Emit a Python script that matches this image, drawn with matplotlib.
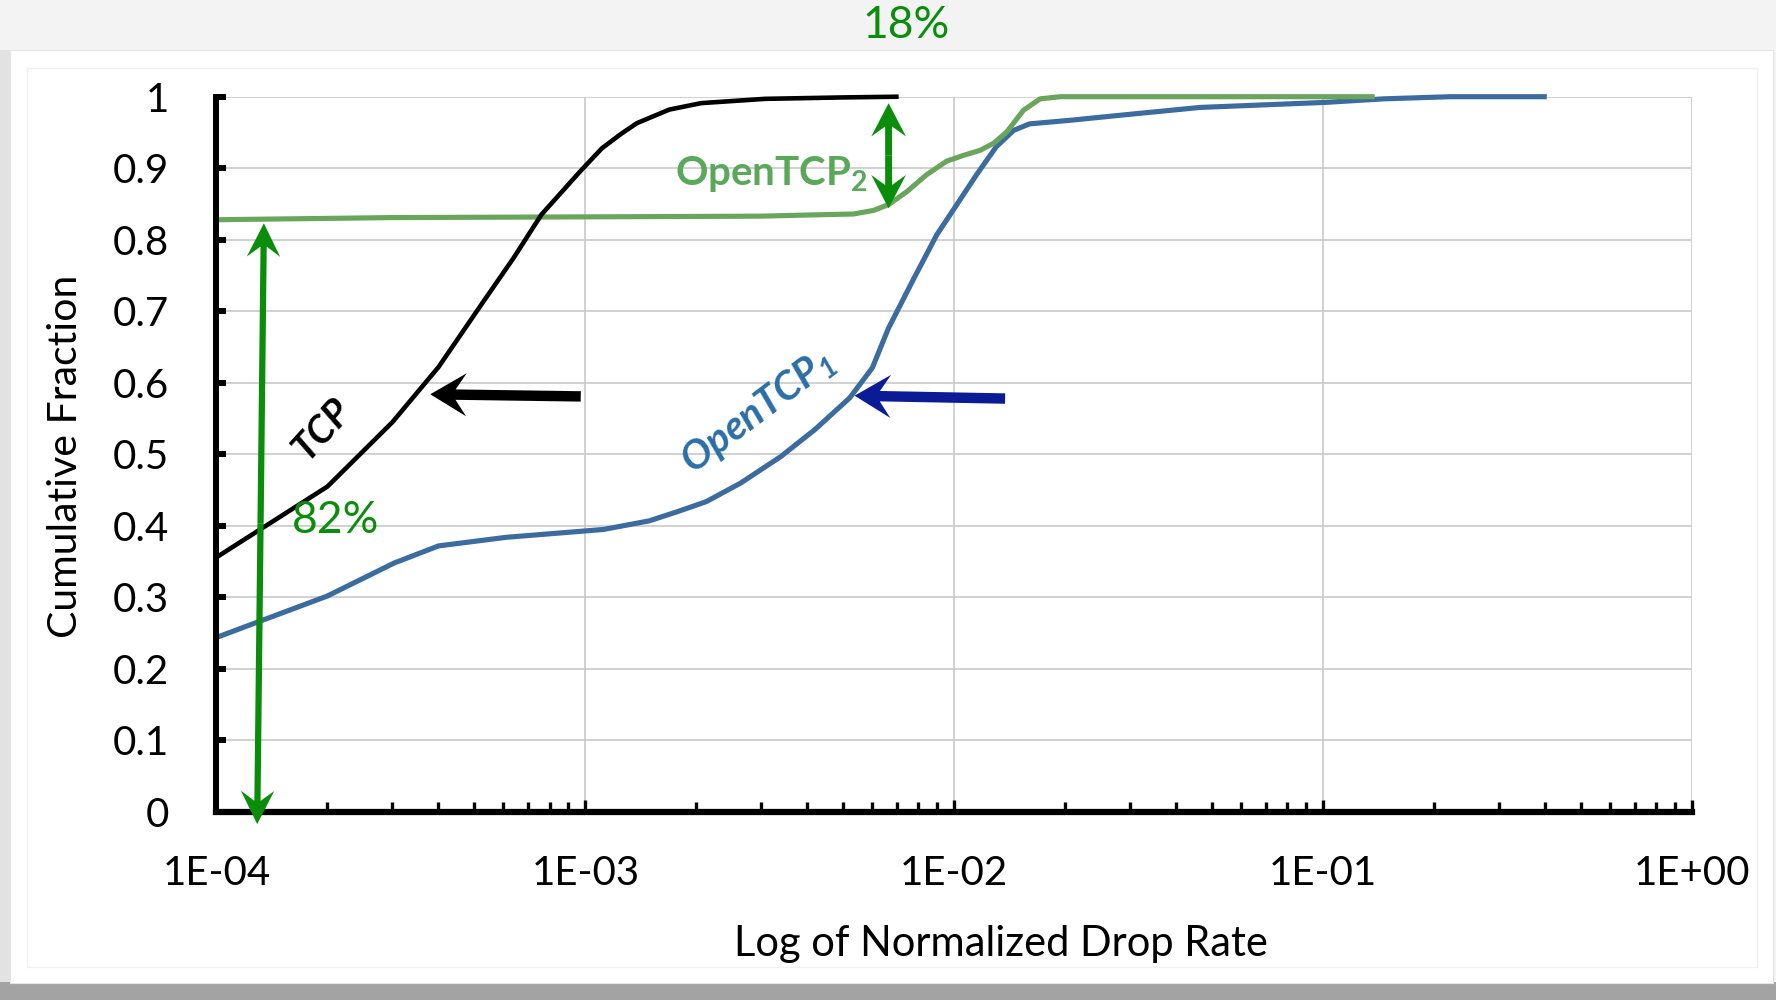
import numpy as np
import matplotlib
matplotlib.use("Agg")
import matplotlib.pyplot as plt
from matplotlib.patches import Rectangle, ArrowStyle
from matplotlib.path import Path
from matplotlib.ticker import FixedLocator, FixedFormatter, LogLocator, NullFormatter

plt.rcParams['font.family'] = ['Lato', 'DejaVu Sans']
plt.rcParams['mathtext.fontset'] = 'custom'
plt.rcParams['mathtext.rm'] = 'Lato'
plt.rcParams['mathtext.bf'] = 'Lato:bold'
plt.rcParams['mathtext.bfit'] = 'Lato:italic:bold'

# ---------------- data ----------------
tcp_x = [1.0e-4, 2.0e-4, 3.0e-4, 4.0e-4, 5.3e-4, 6.4e-4, 7.6e-4, 9.7e-4, 1.11e-3,
         1.25e-3, 1.38e-3, 1.69e-3, 2.06e-3, 3.07e-3, 5.0e-3, 7.07e-3]
tcp_y = [0.356, 0.455, 0.545, 0.622, 0.714, 0.775, 0.835, 0.896, 0.928,
         0.948, 0.963, 0.982, 0.991, 0.997, 0.999, 1.0]

open2_x = [1.0e-4, 3.0e-4, 1.0e-3, 3.0e-3, 4.33e-3, 5.33e-3, 6.04e-3, 6.63e-3, 7.43e-3,
           8.42e-3, 9.55e-3, 1.06e-2, 1.175e-2, 1.28e-2, 1.39e-2, 1.54e-2, 1.71e-2,
           1.94e-2, 5.0e-2, 1.38e-1]
open2_y = [0.828, 0.831, 0.832, 0.833, 0.835, 0.836, 0.841, 0.849, 0.867,
           0.891, 0.910, 0.918, 0.925, 0.935, 0.951, 0.981, 0.997,
           1.0, 1.0, 1.0]

open1_x = [1.0e-4, 2.0e-4, 3.03e-4, 4.0e-4, 6.1e-4, 1.12e-3, 1.49e-3, 1.78e-3, 2.13e-3,
           2.64e-3, 3.39e-3, 4.2e-3, 5.21e-3, 6.0e-3, 6.63e-3, 7.74e-3, 8.97e-3,
           1.016e-2, 1.15e-2, 1.30e-2, 1.45e-2, 1.60e-2, 2.06e-2, 2.81e-2, 4.64e-2,
           1.01e-1, 1.46e-1, 2.21e-1, 4.04e-1]
open1_y = [0.244, 0.302, 0.348, 0.372, 0.384, 0.395, 0.407, 0.420, 0.434,
           0.460, 0.497, 0.535, 0.579, 0.621, 0.676, 0.744, 0.807,
           0.849, 0.891, 0.930, 0.953, 0.962, 0.967, 0.974, 0.985,
           0.992, 0.997, 1.0, 1.0]

xticks = [1e-4, 1e-3, 1e-2, 1e-1, 1e0]
xtick_labels = ['1E-04', '1E-03', '1E-02', '1E-01', '1E+00']
yticks = [0, 0.1, 0.2, 0.3, 0.4, 0.5, 0.6, 0.7, 0.8, 0.9, 1.0]
ytick_labels = ['0', '0.1', '0.2', '0.3', '0.4', '0.5', '0.6', '0.7', '0.8', '0.9', '1']

C_TCP = '#000000'
C_OPEN2 = '#6aa55c'
C_OPEN1 = '#3b6b9f'
C_ANN = '#0a8d0a'
C_NAVY = '#0b1a95'


class Stealth(ArrowStyle._Base):
    """Filled arrow with a notched (stealth-like) head; sizes in points."""
    def __init__(self, head_length=24, head_width=30, tail_width=7, notch=0.3):
        self.hl, self.hw, self.tw, self.notch = head_length, head_width, tail_width, notch
        super().__init__()

    def transmute(self, path, mutation_size, linewidth):
        (x0, y0), (x1, y1) = path.vertices[0], path.vertices[-1]
        s = mutation_size
        dx, dy = x1 - x0, y1 - y0
        L = np.hypot(dx, dy)
        ux, uy = dx / L, dy / L
        px, py = -uy, ux
        hl, hw, tw = self.hl * s, self.hw * s, self.tw * s
        neck = hl * (1 - self.notch)

        def P(a, b):
            return (x0 + ux * a + px * b, y0 + uy * a + py * b)
        verts = [P(0, tw / 2), P(L - neck, tw / 2), P(L - hl, hw / 2), P(L, 0),
                 P(L - hl, -hw / 2), P(L - neck, -tw / 2), P(0, -tw / 2), P(0, tw / 2)]
        codes = [Path.MOVETO] + [Path.LINETO] * 6 + [Path.CLOSEPOLY]
        return Path(verts, codes), True


def arrow(ax, tip, tail, color, **kw):
    ax.annotate('', xy=tip, xytext=tail, xycoords='data', textcoords='data',
                annotation_clip=False, zorder=6,
                arrowprops=dict(arrowstyle=Stealth(**kw), mutation_scale=1,
                                shrinkA=0, shrinkB=0, fc=color, ec='none', lw=0))


def double_arrow(ax, top, bottom, color, **kw):
    mid = (np.sqrt(top[0] * bottom[0]), (top[1] + bottom[1]) / 2)
    arrow(ax, top, mid, color, **kw)
    arrow(ax, bottom, mid, color, **kw)


# ---------------- figure & frame ----------------
fig = plt.figure(figsize=(17.76, 10.0), dpi=100, facecolor='#f3f3f3')
fig.patches.append(Rectangle((0, 0), 1, 0.018, transform=fig.transFigure,
                             fc='#a3a3a3', ec='none', zorder=-10))
fig.patches.append(Rectangle((0, 0.018), 0.0056, 0.932, transform=fig.transFigure,
                             fc='#e2e2e2', ec='none', zorder=-10))
fig.patches.append(Rectangle((0.0056, 0.017), 0.9927, 0.933, transform=fig.transFigure,
                             fc='white', ec='#e4e4e4', lw=0.8, zorder=-10))
fig.patches.append(Rectangle((27 / 1776, 1 - 967 / 1000), (1757 - 27) / 1776, (967 - 68) / 1000,
                             transform=fig.transFigure, fc='none', ec='#f0f0f0', lw=1, zorder=-9))

ax = fig.add_axes([216.4 / 1776, 1 - 812 / 1000, (1692 - 216.4) / 1776, (812 - 96.7) / 1000])
ax.set_zorder(1)
ax.set_facecolor('none')
ax.set_xscale('log')
ax.set_xlim(1e-4, 1)
ax.set_ylim(0, 1)

ax.plot(open1_x, open1_y, color=C_OPEN1, lw=3.7, clip_on=False, zorder=3,
        solid_capstyle='butt', solid_joinstyle='round')
ax.plot(open2_x, open2_y, color=C_OPEN2, lw=3.7, clip_on=False, zorder=3,
        solid_capstyle='butt', solid_joinstyle='round')
ax.plot(tcp_x, tcp_y, color=C_TCP, lw=3.3, clip_on=False, zorder=4,
        solid_capstyle='butt', solid_joinstyle='round')

# axes styling
for s in ('top', 'right'):
    ax.spines[s].set_visible(False)
ax.spines['left'].set_linewidth(4.3)
ax.spines['bottom'].set_linewidth(4.5)
ax.spines['left'].set_zorder(5)
ax.spines['bottom'].set_zorder(5)

ax.xaxis.set_major_locator(FixedLocator(xticks))
ax.xaxis.set_major_formatter(FixedFormatter(xtick_labels))
ax.xaxis.set_minor_locator(LogLocator(base=10, subs=np.arange(2, 10), numticks=20))
ax.xaxis.set_minor_formatter(NullFormatter())
ax.yaxis.set_major_locator(FixedLocator(yticks))
ax.yaxis.set_major_formatter(FixedFormatter(ytick_labels))

ax.grid(True, which='major', color='#c9c9c9', lw=1.2, zorder=0)
ax.set_axisbelow(True)

ax.tick_params(axis='y', which='major', direction='in', length=7, width=4.3, pad=34,
               labelsize=29, colors='black')
ax.tick_params(axis='x', which='major', direction='in', length=9, width=2.4, pad=31,
               labelsize=29)
ax.tick_params(axis='x', which='minor', direction='in', length=7, width=2.4)

ax.set_xlabel('Log of Normalized Drop Rate', fontsize=30)
ax.xaxis.set_label_coords(0.5317, -0.158)
ax.set_ylabel('Cumulative Fraction', fontsize=29.5)
ax.yaxis.set_label_coords(-0.090, 0.497)

# ---------------- annotations ----------------
# 18% gap arrow
double_arrow(ax, (6.64e-3, 0.991), (6.64e-3, 0.844), C_ANN,
             head_length=24, head_width=25, tail_width=5, notch=0.3)
fig.text(906 / 1776, 1 - 25 / 1000, '18%', color=C_ANN, fontsize=32,
         ha='center', va='center')

# 82% arrow
double_arrow(ax, (1.345e-4, 0.823), (1.29e-4, -0.017), C_ANN,
             head_length=24, head_width=24, tail_width=4.5, notch=0.3)
ax.text(2.11e-4, 0.407, '82%', color=C_ANN, fontsize=32, ha='center', va='center', zorder=7)

# series labels
ax.text(3.20e-3, 0.892, r'OpenTCP$_{\mathbf{2}}$', color='#5aa85a', fontsize=29,
        fontweight='bold', ha='center', va='center', zorder=7)
ax.text(2.94e-3, 0.56, r'OpenTCP$_{\mathbfit{1}}$', color='#2b6ea8', fontsize=29,
        fontweight='bold', fontstyle='italic', rotation=37, ha='center', va='center',
        zorder=7)
ax.text(1.94e-4, 0.535, 'TCP', color='black', fontsize=28, fontweight='bold',
        fontstyle='italic', rotation=48, ha='center', va='center', zorder=7)

# pointer arrows
arrow(ax, (3.8e-4, 0.584), (9.72e-4, 0.581), C_TCP,
      head_length=26, head_width=31, tail_width=7.5, notch=0.3)
arrow(ax, (5.37e-3, 0.582), (1.374e-2, 0.578), C_NAVY,
      head_length=26, head_width=31, tail_width=7.5, notch=0.3)

fig.savefig('out.png', dpi=100, facecolor=fig.get_facecolor())
